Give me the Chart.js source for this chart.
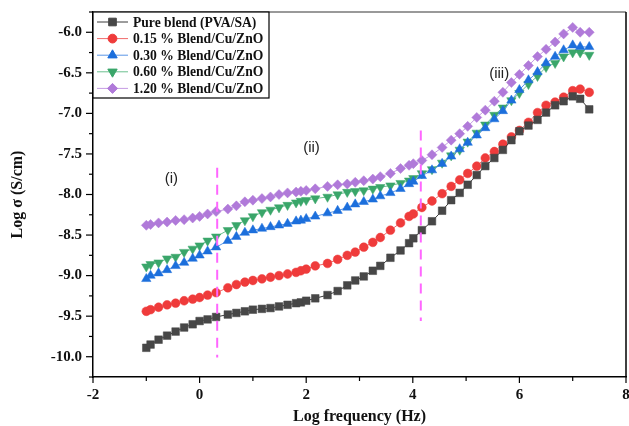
<!DOCTYPE html>
<html>
<head>
<meta charset="utf-8">
<script src="https://cdn.jsdelivr.net/npm/chart.js@4.4.1/dist/chart.umd.min.js"></script>
<style>
  html, body { margin: 0; padding: 0; background: #fff; }
  #wrap { width: 629px; height: 426px; position: relative; }
</style>
</head>
<body>
<div id="wrap"><canvas id="condChart"></canvas></div>
<script>
// log frequency (Hz), shared by all samples
const logFreq = [-1.00, -0.92, -0.77, -0.61, -0.45, -0.29, -0.13, 0.00, 0.15, 0.31,
  0.53, 0.69, 0.85, 1.00, 1.17, 1.33, 1.49, 1.65, 1.81, 1.90,
  2.00, 2.17, 2.40, 2.59, 2.77, 2.92, 3.08, 3.25, 3.39, 3.58,
  3.77, 3.93, 4.01, 4.17, 4.36, 4.55, 4.72, 4.88, 5.03, 5.20,
  5.36, 5.53, 5.69, 5.85, 6.00, 6.17, 6.34, 6.50, 6.67, 6.83,
  7.00, 7.14, 7.31];

const pureBlend = [-9.89, -9.85, -9.79, -9.74, -9.69, -9.64, -9.60, -9.56, -9.54, -9.51,
  -9.48, -9.46, -9.44, -9.42, -9.41, -9.40, -9.38, -9.36, -9.34, -9.33,
  -9.31, -9.28, -9.24, -9.19, -9.12, -9.06, -9.01, -8.94, -8.88, -8.78,
  -8.69, -8.60, -8.54, -8.44, -8.33, -8.20, -8.07, -7.98, -7.88, -7.76,
  -7.65, -7.55, -7.45, -7.33, -7.22, -7.15, -7.08, -6.99, -6.90, -6.85,
  -6.79, -6.82, -6.95];

const blend015 = [-9.44, -9.42, -9.39, -9.36, -9.34, -9.31, -9.29, -9.27, -9.24, -9.21,
  -9.15, -9.11, -9.08, -9.06, -9.04, -9.02, -9.00, -8.98, -8.96, -8.94,
  -8.92, -8.88, -8.85, -8.80, -8.75, -8.71, -8.65, -8.59, -8.53, -8.44,
  -8.35, -8.27, -8.24, -8.16, -8.08, -7.99, -7.90, -7.82, -7.74, -7.65,
  -7.55, -7.47, -7.38, -7.29, -7.21, -7.11, -6.99, -6.90, -6.86, -6.80,
  -6.72, -6.70, -6.74];

const blend030 = [-9.04, -9.00, -8.97, -8.93, -8.88, -8.84, -8.79, -8.75, -8.70, -8.65,
  -8.57, -8.52, -8.47, -8.44, -8.42, -8.40, -8.38, -8.36, -8.33, -8.32,
  -8.30, -8.27, -8.23, -8.20, -8.16, -8.12, -8.09, -8.06, -8.02, -7.98,
  -7.93, -7.87, -7.84, -7.77, -7.70, -7.62, -7.53, -7.44, -7.36, -7.27,
  -7.18, -7.07, -6.97, -6.84, -6.71, -6.59, -6.49, -6.38, -6.30, -6.22,
  -6.16, -6.18, -6.18];

const blend060 = [-8.89, -8.86, -8.84, -8.79, -8.77, -8.71, -8.67, -8.63, -8.57, -8.52,
  -8.44, -8.38, -8.32, -8.27, -8.22, -8.19, -8.16, -8.13, -8.10, -8.08,
  -8.07, -8.05, -8.03, -8.00, -7.97, -7.96, -7.95, -7.93, -7.91, -7.89,
  -7.86, -7.83, -7.80, -7.74, -7.69, -7.61, -7.52, -7.45, -7.35, -7.24,
  -7.14, -7.02, -6.93, -6.84, -6.75, -6.64, -6.54, -6.43, -6.38, -6.30,
  -6.25, -6.25, -6.28];

const blend120 = [-8.38, -8.37, -8.35, -8.34, -8.32, -8.31, -8.29, -8.27, -8.24, -8.21,
  -8.18, -8.14, -8.09, -8.07, -8.05, -8.03, -8.00, -7.98, -7.97, -7.96,
  -7.95, -7.93, -7.90, -7.88, -7.87, -7.85, -7.83, -7.81, -7.78, -7.74,
  -7.68, -7.64, -7.62, -7.58, -7.51, -7.42, -7.33, -7.25, -7.16, -7.05,
  -6.96, -6.85, -6.74, -6.62, -6.52, -6.41, -6.30, -6.21, -6.12, -6.02,
  -5.94, -6.00, -6.00];

const seriesNames = ['Pure blend (PVA/SA)', '0.15 % Blend/Cu/ZnO', '0.30 % Blend/Cu/ZnO',
  '0.60 % Blend/Cu/ZnO', '1.20 % Blend/Cu/ZnO'];

const xTicks = [-2, 0, 2, 4, 6, 8];
const yTicks = [-10.0, -9.5, -9.0, -8.5, -8.0, -7.5, -7.0, -6.5, -6.0];

// region markers (dashed dividers + labels)
const dividerX = [0.33, 4.15];
const dividerTop = [-7.67, -7.21];
const dividerBottom = [-10.01, -9.56];
const regionLabels = ['(i)', '(ii)', '(iii)'];
const regionX = [-0.53, 2.10, 5.62];
const regionY = [-7.81, -7.43, -6.51];

function toPoints(ys) {
  return logFreq.map((x, i) => ({ x: x, y: ys[i] }));
}

function makeSet(label, ys, color, lineColor, style, radius, rotation) {
  return {
    label: label,
    data: toPoints(ys),
    showLine: true,
    borderColor: lineColor,
    borderWidth: 1,
    backgroundColor: color,
    pointBackgroundColor: color,
    pointBorderColor: color,
    pointBorderWidth: 0.5,
    pointStyle: style,
    pointRadius: radius,
    pointRotation: rotation || 0
  };
}

const serif = "'Liberation Serif', 'Times New Roman', serif";

// ticks, frame, dividers, region labels and the in-plot legend
const extras = {
  id: 'extras',
  afterDatasetsDraw(chart) {
    const ctx = chart.ctx;
    const area = chart.chartArea;
    const xs = chart.scales.x;
    const ys = chart.scales.y;
    ctx.save();

    // dashed dividers
    ctx.strokeStyle = '#ff66ff';
    ctx.lineWidth = 2;
    ctx.setLineDash([10, 7]);
    dividerX.forEach((d, i) => {
      const px = xs.getPixelForValue(d);
      ctx.beginPath();
      ctx.moveTo(px, ys.getPixelForValue(dividerTop[i]));
      ctx.lineTo(px, ys.getPixelForValue(dividerBottom[i]));
      ctx.stroke();
    });
    ctx.setLineDash([]);

    // region labels
    ctx.fillStyle = '#222';
    ctx.font = "15px 'Liberation Sans', Arial, sans-serif";
    ctx.textAlign = 'center';
    ctx.textBaseline = 'middle';
    regionLabels.forEach((t, i) => {
      ctx.fillText(t, xs.getPixelForValue(regionX[i]), ys.getPixelForValue(regionY[i]));
    });

    // top and right frame
    ctx.lineWidth = 1.5;
    ctx.strokeStyle = '#777';
    ctx.beginPath();
    ctx.moveTo(area.left, area.top);
    ctx.lineTo(area.right, area.top);
    ctx.stroke();
    ctx.strokeStyle = '#000';
    ctx.beginPath();
    ctx.moveTo(area.right, area.top);
    ctx.lineTo(area.right, area.bottom);
    ctx.stroke();

    // outward ticks, major and minor
    ctx.lineWidth = 1.2;
    for (let v = -10.25; v <= -5.75 + 1e-6; v += 0.25) {
      const py = ys.getPixelForValue(v);
      const major = Math.abs(v * 2 - Math.round(v * 2)) < 1e-6;
      ctx.beginPath();
      ctx.moveTo(area.left, py);
      ctx.lineTo(area.left - (major ? 7 : 4), py);
      ctx.stroke();
    }
    for (let v = -2; v <= 8; v += 1) {
      const px = xs.getPixelForValue(v);
      const major = v % 2 === 0;
      ctx.beginPath();
      ctx.moveTo(px, area.bottom);
      ctx.lineTo(px, area.bottom + (major ? 6 : 4));
      ctx.stroke();
    }

    // legend box
    const lx = area.left, ly = area.top, lw = 176, lh = 86;
    ctx.fillStyle = '#fff';
    ctx.fillRect(lx, ly, lw, lh);
    ctx.strokeStyle = '#000';
    ctx.lineWidth = 1.2;
    ctx.strokeRect(lx, ly, lw, lh);
    ctx.font = 'bold 13.6px ' + serif;
    ctx.textAlign = 'left';
    ctx.textBaseline = 'middle';
    chart.data.datasets.forEach((ds, i) => {
      const cy = ly + 10 + i * 16.6;
      ctx.strokeStyle = ds.borderColor;
      ctx.lineWidth = 1;
      ctx.beginPath();
      ctx.moveTo(lx + 4, cy);
      ctx.lineTo(lx + 35, cy);
      ctx.stroke();
      ctx.fillStyle = ds.pointBackgroundColor;
      ctx.strokeStyle = ds.pointBorderColor;
      Chart.helpers.drawPoint(ctx, {
        pointStyle: ds.pointStyle,
        rotation: ds.pointRotation,
        radius: ds.pointRadius,
        borderWidth: 0.5
      }, lx + 19.5, cy);
      ctx.fillStyle = '#111';
      ctx.fillText(ds.label, lx + 40, cy + 1);
    });
    ctx.restore();
  }
};

const ctx = document.getElementById('condChart').getContext('2d');
new Chart(ctx, {
  type: 'scatter',
  data: {
    datasets: [
      makeSet(seriesNames[0], pureBlend, '#474747', '#3a3a3a', 'rect', 5.4, 0),
      makeSet(seriesNames[1], blend015, '#ef3b3b', '#f06a6a', 'circle', 4.4, 0),
      makeSet(seriesNames[2], blend030, '#1c6fdc', '#5a95e6', 'triangle', 5.4, 0),
      makeSet(seriesNames[3], blend060, '#3aa66a', '#6cc08f', 'triangle', 5.4, 180),
      makeSet(seriesNames[4], blend120, '#b07ad9', '#c59be3', 'rectRot', 5.0, 0)
    ]
  },
  options: {
    responsive: true,
    maintainAspectRatio: false,
    animation: false,
    layout: { autoPadding: false, padding: { top: 12, right: 3, bottom: 0, left: 0 } },
    plugins: {
      legend: { display: false },
      tooltip: { enabled: false }
    },
    scales: {
      x: {
        type: 'linear',
        min: -2,
        max: 8,
        grid: { display: true, drawOnChartArea: false, drawTicks: false },
        border: { display: true, color: '#000', width: 1.5 },
        afterBuildTicks: s => { s.ticks = xTicks.map(v => ({ value: v })); },
        ticks: {
          padding: 9,
          color: '#111',
          font: { family: serif, size: 15, weight: 'bold' },
          callback: v => String(v)
        },
        title: {
          display: true,
          text: 'Log frequency (Hz)',
          color: '#111',
          padding: 0,
          font: { family: serif, size: 16, weight: 'bold' }
        },
        afterFit: s => { s.height = 49; s.paddingLeft = 0; s.paddingRight = 0; }
      },
      y: {
        type: 'linear',
        min: -10.25,
        max: -5.75,
        grid: { display: true, drawOnChartArea: false, drawTicks: false },
        border: { display: true, color: '#000', width: 1.5 },
        afterBuildTicks: s => { s.ticks = yTicks.map(v => ({ value: v })); },
        ticks: {
          padding: 11,
          color: '#111',
          font: { family: serif, size: 15, weight: 'bold' },
          callback: v => v.toFixed(1)
        },
        title: {
          display: true,
          text: 'Log σ (S/cm)',
          color: '#111',
          padding: { top: 8, bottom: 0 },
          font: { family: serif, size: 16, weight: 'bold' }
        },
        afterFit: s => { s.width = 93; s.paddingTop = 0; s.paddingBottom = 0; }
      }
    }
  },
  plugins: [extras]
});
</script>
</body>
</html>
